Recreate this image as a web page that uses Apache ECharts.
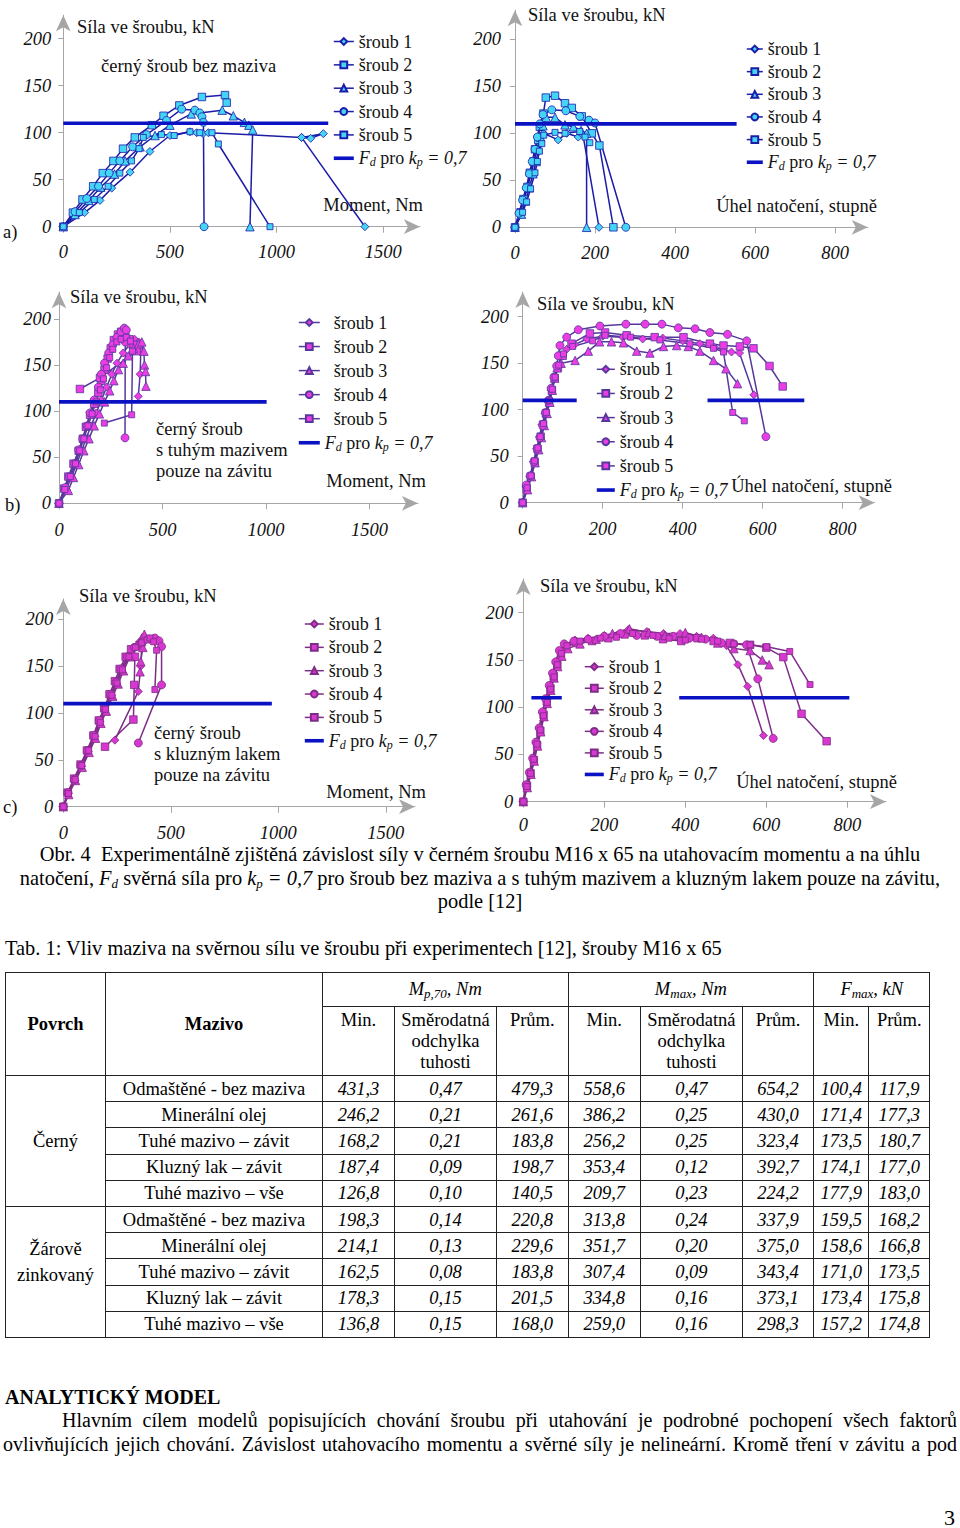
<!DOCTYPE html>
<html><head><meta charset="utf-8">
<script src="https://cdn.jsdelivr.net/npm/echarts@6/dist/echarts.min.js"></script>
<style>
html,body{margin:0;padding:0;background:#fff;}
body{width:960px;height:1528px;position:relative;font-family:"Liberation Serif","Times New Roman",serif;color:#000;overflow:hidden;}
#chart{position:absolute;left:0;top:0;width:960px;height:845px;}
#caption{position:absolute;left:0;top:843px;width:960px;text-align:center;font-size:20.4px;line-height:23.5px;white-space:nowrap;}
#caption i sub,#tab sub{font-size:13px;line-height:0;vertical-align:-3px;}
#tabtitle{position:absolute;left:5px;top:936px;font-size:20.4px;line-height:24px;white-space:nowrap;}
#tab{position:absolute;left:5px;top:972px;border-collapse:collapse;table-layout:fixed;font-size:18.5px;}
#tab td{border:1.5px solid #222;padding:0;text-align:center;vertical-align:middle;line-height:21px;}
#tab tr.d td{height:25.2px;line-height:24px;}
#tab td.v{font-style:italic;}
#head{position:absolute;left:5px;top:1385px;font-size:20px;font-weight:bold;line-height:24px;white-space:nowrap;}
.pl{position:absolute;font-size:20px;line-height:24px;white-space:nowrap;text-align:justify;text-align-last:justify;}
#pnum{position:absolute;left:944px;top:1505px;font-size:22px;line-height:26px;}
</style></head><body>
<div id="chart"></div>
<div id="caption"></div>
<div id="tabtitle">Tab. 1: Vliv maziva na svěrnou sílu ve šroubu při experimentech [12], šrouby M16 x 65</div>
<table id="tab"></table>
<div id="head">ANALYTICKÝ MODEL</div>
<div class="pl" style="left:62px;top:1408px;width:895px;">Hlavním cílem modelů popisujících chování šroubu při utahování je podrobné pochopení všech faktorů</div>
<div class="pl" style="left:3px;top:1432px;width:954px;">ovlivňujících jejich chování. Závislost utahovacího momentu a svěrné síly je nelineární. Kromě tření v závitu a pod</div>
<div id="pnum">3</div>
<script>
// ---------------- DATA ----------------
const FD_LEVEL = 110;
const momentTicks = [0, 500, 1000, 1500];
const angleTicks = [0, 200, 400, 600, 800];
const forceTicks = [0, 50, 100, 150, 200];
const boltNames = ['šroub 1', 'šroub 2', 'šroub 3', 'šroub 4', 'šroub 5'];

// a) black bolt, no lubricant - moment
const a1 = [[0,0],[100,15],[172,28],[227,41],[313,58],[406,80],[500,97],[594,101],[625,100],[655,99],[680,100],[1117,95],[1160,94],[1219,99],[1117,95],[1414,0]];
const a2 = [[0,0],[45,15],[90,29],[140,43],[185,57],[235,70],[280,83],[335,95],[415,108],[470,118],[544,129],[650,138],[758,140],[766,132]];
const a3 = [[0,0],[55,13],[120,28],[175,42],[240,56],[290,70],[360,85],[430,97],[500,108],[600,120],[745,124],[797,118],[849,111],[870,108],[888,103],[875,0]];
const a4 = [[0,0],[55,16],[110,30],[165,43],[215,57],[265,70],[325,85],[390,98],[484,113],[555,125],[617,124],[640,121],[650,117],[657,111],[660,0]];
const a5 = [[0,0],[75,15],[145,29],[210,43],[265,57],[320,70],[355,83],[375,95],[460,98],[520,97],[594,101],[640,100],[697,100],[727,88],[969,0]];
const aFd = [[0,FD_LEVEL],[1242,FD_LEVEL]];

// a) angle
const ap1 = [[0,0],[12,15],[22,29],[32,43],[40,57],[48,70],[55,83],[62,93],[71,100],[108,93],[129,100],[158,96],[170,98],[210,0]];
const ap2 = [[0,0],[14,16],[21,30],[31,43],[37,58],[46,70],[50,83],[58,93],[62,107],[71,121],[77,138],[100,140],[125,132],[142,127],[167,118],[192,100],[211,87],[246,0]];
const ap3 = [[0,0],[16,14],[26,28],[36,42],[45,57],[53,70],[58,83],[64,96],[70,108],[78,117],[100,117],[125,109],[146,107],[165,103],[179,100],[179,0]];
const ap4 = [[0,0],[10,15],[19,29],[28,42],[36,57],[43,70],[50,83],[56,96],[62,110],[70,120],[92,125],[127,124],[162,118],[185,114],[200,111],[277,0]];
const ap5 = [[0,0],[19,16],[29,27],[39,41],[50,58],[56,70],[61,81],[67,89],[72,98],[100,101],[125,100],[162,102],[175,96],[187,90]];
const apFd = [[0,FD_LEVEL],[554,FD_LEVEL]];

// b) solid lubricant on thread - moment
const b1 = [[0,0],[35,15],[60,28],[85,43],[110,57],[130,70],[155,84],[180,98],[205,112],[230,126],[255,140],[280,152],[310,163],[340,172],[365,178],[385,175],[395,165],[392,140],[383,116]];
const b2 = [[0,0],[25,16],[45,29],[70,43],[95,57],[115,70],[130,83],[150,96],[170,108],[190,120],[205,133],[220,145],[235,157],[250,168],[265,177],[285,183],[300,186],[320,183],[340,178],[360,172],[375,165],[198,136],[101,124]];
const b3 = [[0,0],[45,14],[70,28],[95,42],[120,57],[145,70],[170,84],[195,97],[220,110],[245,122],[265,133],[287,145],[310,152],[335,160],[360,168],[385,173],[400,175],[410,165],[413,150],[418,143],[420,127]];
const b4 = [[0,0],[30,17],[50,29],[75,43],[95,58],[115,70],[135,84],[150,98],[170,112],[190,126],[205,140],[220,152],[240,163],[260,172],[280,180],[300,186],[315,190],[325,188],[320,175],[319,71]];
const b5 = [[0,0],[28,15],[55,29],[80,43],[100,57],[120,70],[140,84],[160,97],[180,110],[200,123],[215,135],[230,147],[245,158],[260,167],[280,175],[300,178],[325,180],[345,176],[355,165],[351,96],[219,87]];
const bFd = [[0,FD_LEVEL],[1003,FD_LEVEL]];

// b) angle
const bp1 = [[0,0],[8,17],[18,28],[27,44],[35,58],[42,71],[48,84],[56,96],[64,108],[71,121],[78,134],[86,146],[97,157],[110,165],[130,170],[160,176],[200,179],[250,178],[300,176],[350,177],[400,174],[443,171],[480,167],[522,162],[542,161],[578,116]];
const bp2 = [[0,0],[10,15],[20,28],[30,44],[37,58],[45,71],[51,84],[58,96],[66,108],[73,121],[80,134],[88,145],[100,158],[122,171],[168,182],[206,183],[260,180],[330,178],[402,178],[468,171],[502,169],[543,168],[577,166],[617,147],[650,125]];
const bp3 = [[0,0],[12,14],[22,28],[31,43],[40,57],[47,70],[54,83],[61,96],[68,108],[74,121],[80,134],[86,145],[96,150],[131,153],[164,163],[192,173],[222,173],[252,172],[285,163],[318,161],[352,168],[385,169],[414,168],[443,163],[477,153],[508,144],[537,128]];
const bp4 = [[0,0],[9,19],[19,29],[28,44],[36,58],[43,70],[50,83],[57,97],[64,110],[71,123],[78,135],[85,147],[89,158],[93,169],[110,178],[139,186],[193,190],[258,192],[306,192],[348,192],[389,188],[431,187],[468,183],[512,181],[560,174],[608,71]];
const bp5 = [[0,0],[11,16],[21,29],[30,45],[38,59],[44,71],[52,85],[59,97],[67,110],[74,122],[81,135],[90,148],[102,160],[125,168],[175,174],[206,180],[270,178],[343,175],[418,171],[477,166],[502,162],[525,97],[554,88]];
const bpFd = [[0,FD_LEVEL],[135,FD_LEVEL],[300,'-'],[462,FD_LEVEL],[704,FD_LEVEL]];

// c) slide lacquer on thread - moment
const c1 = [[0,0],[23,14],[54,28],[85,43],[116,59],[147,75],[170,91],[194,103],[225,119],[248,132],[271,146],[302,160],[330,170],[355,176],[365,172],[360,150],[349,123],[240,71]];
const c2 = [[0,0],[20,15],[50,30],[80,45],[110,60],[140,76],[165,92],[190,105],[215,120],[240,134],[262,147],[290,160],[315,168],[333,160],[330,130],[326,93],[194,64]];
const c3 = [[0,0],[25,13],[57,28],[88,42],[120,58],[150,73],[175,89],[200,102],[230,118],[255,131],[280,145],[310,160],[340,172],[365,180],[377,184],[370,170],[360,155],[357,144]];
const c4 = [[0,0],[22,15],[52,29],[82,44],[112,60],[142,76],[168,92],[192,105],[220,120],[245,133],[268,147],[298,160],[330,170],[370,176],[400,179],[426,180],[445,177],[457,171],[457,130],[349,68]];
const c5 = [[0,0],[24,14],[55,29],[86,44],[118,60],[148,75],[172,90],[196,104],[226,119],[250,132],[275,146],[305,160],[335,170],[365,175],[390,178],[403,180],[420,176],[434,167],[426,125]];
const cFd = [[0,FD_LEVEL],[970,FD_LEVEL]];

// c) angle
const cp1 = [[0,0],[8,16],[16,30],[25,44],[33,62],[41,76],[49,93],[58,108],[66,122],[74,134],[82,146],[90,159],[103,166],[128,171],[160,173],[200,176],[259,182],[305,180],[346,178],[387,178],[428,175],[469,173],[502,165],[530,145],[554,122],[593,70]];
const cp2 = [[0,0],[9,17],[18,30],[26,44],[34,60],[42,75],[50,92],[58,106],[67,120],[75,133],[84,145],[93,156],[105,164],[130,168],[170,170],[210,173],[250,177],[300,176],[345,172],[390,170],[430,173],[470,170],[510,168],[560,166],[600,163],[642,153],[687,93],[749,64]];
const cp3 = [[0,0],[10,15],[19,29],[27,43],[35,59],[43,74],[51,90],[59,104],[68,118],[76,131],[85,143],[95,154],[110,162],[140,167],[180,172],[220,178],[262,183],[310,179],[350,176],[400,179],[440,174],[480,168],[520,162],[560,160],[590,150],[607,145]];
const cp4 = [[0,0],[7,18],[15,31],[23,46],[31,63],[39,78],[47,95],[55,109],[64,123],[72,136],[80,148],[89,160],[101,167],[125,170],[160,172],[200,175],[240,178],[280,176],[330,175],[370,175],[410,173],[450,172],[490,168],[520,167],[551,166],[579,130],[617,67]];
const cp5 = [[0,0],[9,16],[18,30],[26,45],[34,61],[42,76],[50,91],[59,105],[67,119],[76,132],[84,145],[94,157],[108,165],[140,170],[190,173],[230,174],[270,178],[320,176],[360,173],[400,171],[440,172],[480,170],[520,167],[560,166],[601,164],[658,159],[708,124]];
const cpFd = [[20,FD_LEVEL],[95,FD_LEVEL],[200,'-'],[385,FD_LEVEL],[805,FD_LEVEL]];

// table data
const povrchNames = ['Černý', 'Žárově<br>zinkovaný'];
const mazivoNames = ['Odmaštěné - bez maziva','Minerální olej','Tuhé mazivo – závit','Kluzný lak – závit','Tuhé mazivo – vše','Odmaštěné - bez maziva','Minerální olej','Tuhé mazivo – závit','Kluzný lak – závit','Tuhé mazivo – vše'];
const mp70Min = ['431,3','246,2','168,2','187,4','126,8','198,3','214,1','162,5','178,3','136,8'];
const mp70Sd  = ['0,47','0,21','0,21','0,09','0,10','0,14','0,13','0,08','0,15','0,15'];
const mp70Avg = ['479,3','261,6','183,8','198,7','140,5','220,8','229,6','183,8','201,5','168,0'];
const mmaxMin = ['558,6','386,2','256,2','353,4','209,7','313,8','351,7','307,4','334,8','259,0'];
const mmaxSd  = ['0,47','0,25','0,25','0,12','0,23','0,24','0,20','0,09','0,16','0,16'];
const mmaxAvg = ['654,2','430,0','323,4','392,7','224,2','337,9','375,0','343,4','373,1','298,3'];
const fmaxMin = ['100,4','171,4','173,5','174,1','177,9','159,5','158,6','171,0','173,4','157,2'];
const fmaxAvg = ['117,9','177,3','180,7','177,0','183,0','168,2','166,8','173,5','175,8','174,8'];

// ---------------- LAYOUT / STYLE ----------------
const FONT = 'Liberation Serif';
const FS = 18.5;
const AXIS_COL = '#a6a6a6';
const FD_COL = '#0a12c4';
const symbols = ['diamond','rect','triangle','circle','rect'];
const symSizes = [8,7.5,8.5,8,6];

const panels = [
 {key:'A', x0:63.3, y0:226.7, sx:0.2133, sy:0.94, xmax:1672, ymax:225, xt:momentTicks,
  line:'#1c1ca8', fill:'#44d4f6', ylm:12, xlm:16, data:[a1,a2,a3,a4,a5], fd:aFd,
  lg:{left:332, c1:41.5, w:20, sp:23.5, pre:''}, yName:[77,27], xName:[423,205,'Moment, Nm']},
 {key:'B', x0:515, y0:227.3, sx:0.4, sy:0.94, xmax:882, ymax:231, xt:angleTicks,
  line:'#1c1ca8', fill:'#44d4f6', ylm:14, xlm:16, data:[ap1,ap2,ap3,ap4,ap5], fd:apFd,
  lg:{left:745, c1:49, w:16, sp:22.8, pre:''}, yName:[528,15], xName:[877,206,'Úhel natočení, stupně']},
 {key:'C', x0:59, y0:503.3, sx:0.207, sy:0.922, xmax:1734, ymax:229, xt:momentTicks,
  line:'#56389c', fill:'#ec3ce4', ylm:8, xlm:17, data:[b1,b2,b3,b4,b5], fd:bFd,
  lg:{left:297, c1:322.5, w:21, sp:24.2, pre:'\u00a0\u00a0'}, yName:[70,297], xName:[426,481,'Moment, Nm']},
 {key:'D', x0:522.7, y0:502.7, sx:0.4, sy:0.93, xmax:880, ymax:226.5, xt:angleTicks,
  line:'#56389c', fill:'#ec3ce4', ylm:14, xlm:17, data:[bp1,bp2,bp3,bp4,bp5], fd:bpFd,
  lg:{left:595, c1:369.3, w:18, sp:24.3, pre:''}, yName:[537,304], xName:[892,486,'Úhel natočení, stupně']},
 {key:'E', x0:63.3, y0:806.7, sx:0.215, sy:0.937, xmax:1636, ymax:221.7, xt:momentTicks,
  line:'#7e2c88', fill:'#d838d0', ylm:10, xlm:17, data:[c1,c2,c3,c4,c5], fd:cFd,
  lg:{left:303, c1:624, w:19, sp:23.5, pre:''}, yName:[79,596], xName:[426,792,'Moment, Nm']},
 {key:'F', x0:523.3, y0:801.7, sx:0.405, sy:0.945, xmax:895.6, ymax:235.7, xt:angleTicks,
  line:'#7e2c88', fill:'#d838d0', ylm:10, xlm:14, data:[cp1,cp2,cp3,cp4,cp5], fd:cpFd,
  lg:{left:583, c1:666.7, w:19, sp:21.7, pre:''}, yName:[540,586], xName:[897,782,'Úhel natočení, stupně']}
];

const grid=[], xAxis=[], yAxis=[], series=[], legend=[];
panels.forEach((p,i)=>{
  const w = p.xmax*p.sx, h = p.ymax*p.sy;
  const yTop = p.y0 - h, xEnd = p.x0 + w;
  grid.push({left:p.x0, top:yTop, width:w, height:h, containLabel:false});
  const labelStyle = {fontFamily:FONT, fontStyle:'italic', fontSize:FS, color:'#111', formatter:(v)=>String(v)};
  xAxis.push({type:'value', gridIndex:i, min:0, max:p.xmax,
    axisLine:{show:true, onZero:false, symbol:['none','arrow'], symbolSize:[11,16], lineStyle:{color:AXIS_COL,width:1}},
    axisTick:{show:true, customValues:p.xt, length:6, lineStyle:{color:AXIS_COL}},
    axisLabel:Object.assign({customValues:p.xt, margin:p.xlm}, labelStyle),
    splitLine:{show:false},
    name:p.xName[2], nameLocation:'end', nameGap:p.xName[0]-xEnd,
    nameTextStyle:{fontFamily:FONT, fontSize:FS, color:'#111', align:'right', verticalAlign:'bottom', lineHeight:20, padding:[0,0,p.y0-p.xName[1]-10,0]}
  });
  yAxis.push({type:'value', gridIndex:i, min:0, max:p.ymax,
    axisLine:{show:true, onZero:false, symbol:['none','arrow'], symbolSize:[11,16], lineStyle:{color:AXIS_COL,width:1}},
    axisTick:{show:true, customValues:forceTicks, length:5, lineStyle:{color:AXIS_COL}},
    axisLabel:Object.assign({customValues:forceTicks, margin:p.ylm}, labelStyle),
    splitLine:{show:false},
    name:'Síla ve šroubu, kN', nameLocation:'end', nameGap:yTop-p.yName[1],
    nameTextStyle:{fontFamily:FONT, fontSize:FS, color:'#111', align:'left', verticalAlign:'middle', lineHeight:20, padding:[0,0,0,p.yName[0]-p.x0]}
  });
  const names=[];
  p.data.forEach((d,k)=>{
    const nm = p.key+(k+1);
    names.push(nm);
    series.push({type:'line', name:nm, xAxisIndex:i, yAxisIndex:i, data:d, animation:false,
      symbol:symbols[k], symbolSize:symSizes[k], showSymbol:true, clip:false,
      lineStyle:{color:p.line, width:1.5}, itemStyle:{color:p.fill, borderColor:p.line, borderWidth:0.8}, z:3});
  });
  const fdName = p.key+'F';
  names.push({name:fdName, itemStyle:{color:'transparent', borderWidth:0, opacity:0}});
  series.push({type:'line', name:fdName, xAxisIndex:i, yAxisIndex:i, data:p.fd, animation:false,
    symbol:'none', connectNulls:false, lineStyle:{color:FD_COL, width:3.6}, itemStyle:{color:FD_COL}, z:4});
  const pre = p.lg.pre;
  legend.push({data:names, orient:'vertical', left:p.lg.left, top:p.lg.c1-10, padding:0,
    itemWidth:p.lg.w, itemHeight:8.5, itemGap:p.lg.sp-20.15, selectedMode:false,
    lineStyle:{width:'inherit'},
    formatter:(n)=> n.endsWith('F') ? '{i|F}{s|d}{n| pro }{i|k}{s|p}{i| = 0,7}' : pre+boltNames[+n.slice(1)-1],
    textStyle:{fontFamily:FONT, fontSize:18, color:'#111', lineHeight:20,
      rich:{i:{fontFamily:FONT, fontStyle:'italic', fontSize:18, lineHeight:20, color:'#111'},
            n:{fontFamily:FONT, fontSize:18, lineHeight:20, color:'#111'},
            s:{fontFamily:FONT, fontStyle:'italic', fontSize:12, lineHeight:10, verticalAlign:'bottom', color:'#111'}}}
  });
});

const txt = (t,x,y)=>({type:'text', x, y, style:{text:t, font:FS+'px "'+FONT+'"', fill:'#111', verticalAlign:'middle', textVerticalAlign:'middle', lineHeight:21}});
const graphic = [
  txt('a)', 3, 232), txt('b)', 5, 505), txt('c)', 3, 807),
  txt('černý šroub bez maziva', 101, 66),
  txt('černý šroub\ns tuhým mazivem\npouze na závitu', 156, 450),
  txt('černý šroub\ns kluzným lakem\npouze na závitu', 154, 754)
];

const chart = echarts.init(document.getElementById('chart'), null, {renderer:'svg'});
chart.setOption({animation:false, grid, xAxis, yAxis, series, legend, graphic});

// ---------------- caption & table ----------------
document.getElementById('caption').innerHTML =
 'Obr. 4&nbsp; Experimentálně zjištěná závislost síly v černém šroubu M16 x 65 na utahovacím momentu a na úhlu<br>'+
 'natočení, <i>F<sub>d</sub></i> svěrná síla pro <i>k<sub>p</sub> = 0,7</i> pro šroub bez maziva a s tuhým mazivem a kluzným lakem pouze na závitu,<br>'+
 'podle [12]';

const colW = [100,217,72,102,71.5,72.5,101.7,71.6,55,61];
let html = '<colgroup>'+colW.map(w=>'<col style="width:'+w+'px">').join('')+'</colgroup>';
html += '<tr style="height:34px"><td rowspan="2"><b>Povrch</b></td><td rowspan="2"><b>Mazivo</b></td>'+
  '<td colspan="3"><i>M<sub>p,70</sub>, Nm</i></td><td colspan="3"><i>M<sub>max</sub>, Nm</i></td><td colspan="2"><i>F<sub>max</sub>, kN</i></td></tr>';
const hc = 'style="vertical-align:top;padding-top:3px"';
html += '<tr style="height:69px"><td '+hc+'>Min.</td><td '+hc+'>Směrodatná<br>odchylka<br>tuhosti</td><td '+hc+'>Prům.</td>'+
  '<td '+hc+'>Min.</td><td '+hc+'>Směrodatná<br>odchylka<br>tuhosti</td><td '+hc+'>Prům.</td><td '+hc+'>Min.</td><td '+hc+'>Prům.</td></tr>';
for(let r=0;r<10;r++){
  html += '<tr class="d">';
  if(r===0) html += '<td rowspan="5">'+povrchNames[0]+'</td>';
  if(r===5) html += '<td rowspan="5" style="padding-bottom:20px;line-height:26px">'+povrchNames[1]+'</td>';
  html += '<td>'+mazivoNames[r]+'</td>';
  [mp70Min,mp70Sd,mp70Avg,mmaxMin,mmaxSd,mmaxAvg,fmaxMin,fmaxAvg].forEach(a=>{ html += '<td class="v">'+a[r]+'</td>'; });
  html += '</tr>';
}
document.getElementById('tab').innerHTML = html;
</script>
</body></html>
